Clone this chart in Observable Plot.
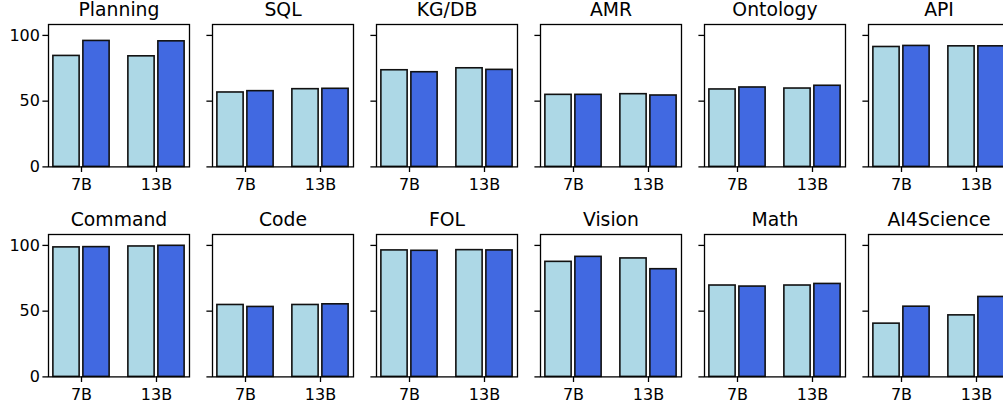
<!DOCTYPE html>
<html><head><meta charset="utf-8">
<script src="https://cdn.jsdelivr.net/npm/d3@7"></script>
<script src="https://cdn.jsdelivr.net/npm/@observablehq/plot@0.6"></script>
<style>
html,body{margin:0;padding:0;background:#fff;overflow:hidden;}
#chart{position:relative;width:1003px;height:409px;overflow:hidden;background:#fff;}
#chart svg{position:absolute;overflow:visible;max-width:none;background:transparent;}
</style></head><body><div id="chart"></div>
<script>
const tasks = ["Planning","SQL","KG/DB","AMR","Ontology","API","Command","Code","FOL","Vision","Math","AI4Science"];
const models = ["7B","13B"];
const series = ["baseline","ours"];
const baseline7B = [84.4,56.6,73.5,54.8,58.9,91.2,98.5,54.7,96.2,87.5,69.5,40.5];
const ours7B     = [95.8,57.6,72.0,54.8,60.4,92.0,98.7,53.2,95.9,91.3,68.7,53.4];
const baseline13B= [84.1,59.1,75.0,55.3,59.6,91.7,99.2,54.7,96.4,90.1,69.5,46.8];
const ours13B    = [95.5,59.4,73.8,54.3,61.7,91.7,99.7,55.2,96.2,81.9,70.7,60.8];
const yTicks = [0,50,100];

const cols = 6, frameW = 141, frameH = 142.4, stepX = 164, stepY = 210;
const x0 = 48.3, y0 = 24.3;
const container = document.getElementById("chart");
const font = "DejaVu Sans";

tasks.forEach((task, i) => {
  const r = Math.floor(i / cols), c = i % cols;
  const rows = [
    {model: "7B", series: "baseline", value: baseline7B[i]},
    {model: "7B", series: "ours", value: ours7B[i]},
    {model: "13B", series: "baseline", value: baseline13B[i]},
    {model: "13B", series: "ours", value: ours13B[i]}
  ];
  const mL = c === 0 ? 49 : 22, mR = 4, mT = 30, mB = 34;
  const w = 0.35, off = 0.2;
  const pos = d => models.indexOf(d.model) + (d.series === "baseline" ? -off : off);
  const svg = Plot.plot({
    width: mL + frameW + mR,
    height: mT + frameH + mB,
    marginLeft: mL, marginRight: mR, marginTop: mT, marginBottom: mB,
    x: {domain: [-0.44, 1.44], axis: null},
    y: {domain: [0, 108.3], axis: null},
    color: {domain: series, range: ["#ADD8E6", "#4169E1"]},
    style: {fontFamily: font, background: "transparent", color: "black", overflow: "visible"},
    marks: [
      Plot.rectY(rows, {x1: d => pos(d) - w/2, x2: d => pos(d) + w/2, y: "value", fill: "series", stroke: "#111", strokeWidth: 1.6}),
      Plot.frame({stroke: "black", strokeWidth: 1.3}),
      Plot.axisY({ticks: yTicks, tickSize: 5.6, tickPadding: 3, strokeWidth: 1.3, fontSize: 16, label: null,
        tickFormat: c === 0 ? d => String(d) : () => ""}),
      Plot.axisX({ticks: [0, 1], tickSize: 5.6, tickPadding: 6, strokeWidth: 1.3, fontSize: 16, label: null,
        tickFormat: k => models[k]}),
      Plot.text([task], {frameAnchor: "top", dy: -8.3, lineAnchor: "bottom", fontSize: 18.8, fill: "black", text: d => d})
    ]
  });
  svg.style.left = (x0 + stepX * c - mL) + "px";
  svg.style.top = (y0 + stepY * r - mT) + "px";
  container.appendChild(svg);
});
</script></body></html>
